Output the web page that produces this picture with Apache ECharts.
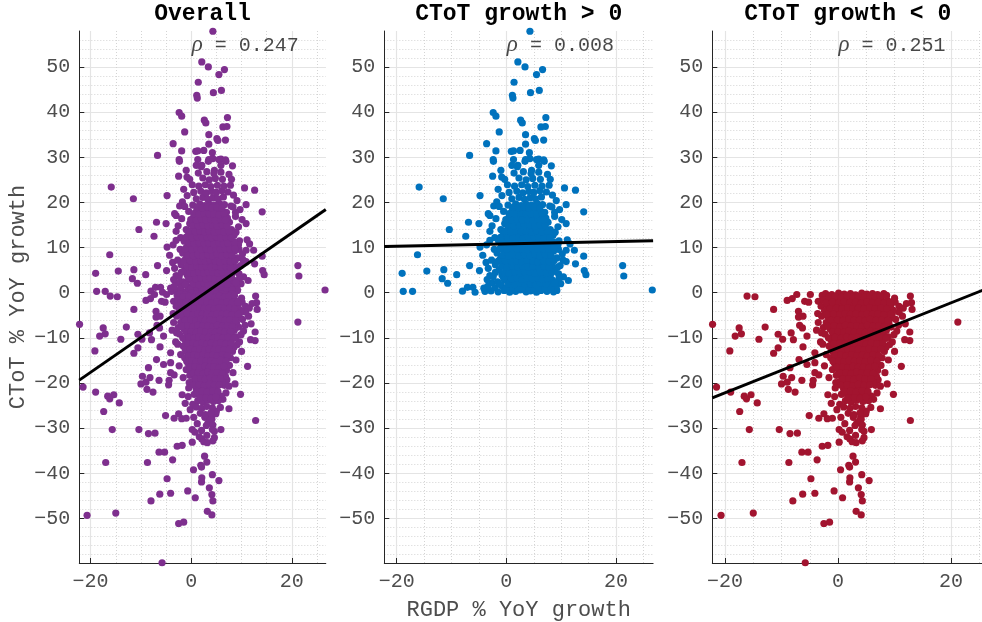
<!DOCTYPE html>
<html>
<head>
<meta charset="utf-8">
<script src="https://cdn.jsdelivr.net/npm/echarts@6/dist/echarts.min.js"></script>
<style>
  html, body { margin: 0; padding: 0; background: #ffffff; }
  #chart { width: 982px; height: 622px; }
</style>
</head>
<body>
<div id="chart"></div>
<script>
// ---- chart data ----
const panelTitles = ['Overall', 'CToT growth > 0', 'CToT growth < 0'];
const rhoValues = ['0.247', '0.008', '0.251'];
const fitSlope = [0.771, 0.0255, 0.498];
const fitIntercept = [-2.2, 10.82, -12.2];
const xRange = [-22.25, 26.75];
const yRange = [-59.85, 57.95];
const xMajorStep = 20, xMinorStep = 5;
const yMajorStep = 10, yMinorStep = 2;
const xAxisTitle = 'RGDP % YoY growth';
const yAxisTitle = 'CToT % YoY growth';

// [RGDP growth, CToT growth] for observations with CToT growth > 0
const ctotPositive = [
  [4.3,57.9],[2.1,51.1],[3.4,50.0],[6.6,49.4],[5.5,48.3],[1.4,46.6],[1.1,43.7],[1.2,43.1],[4.4,44.3],[6.0,44.8],
  [-2.4,39.9],[-1.9,39.1],[2.6,38.2],[2.9,37.6],[7.2,38.8],[6.3,36.7],[7.1,36.8],[-1.3,35.6],[3.5,35.0],[5.1,34.1],
  [5.3,33.7],[6.8,33.8],[-3.6,33.0],[3.5,32.9],[-1.9,31.4],[0.9,31.3],[1.3,31.4],[2.5,31.5],[4.2,31.0],[-6.7,30.4],
  [-2.4,29.5],[1.3,29.5],[3.5,29.5],[5.9,29.6],[6.8,29.4],[-2.35,29.1],[2.1,28.2],[1.0,28.2],[3.4,29.1],[4.3,29.7],
  [5.5,29.5],[6.9,29.1],[5.9,28.2],[4.6,27.1],[-1.0,27.1],[-0.85,25.6],[-2.5,25.8],[-15.9,23.4],[-11.5,20.8],[-4.8,21.5],
  [10.6,23.2],[12.6,22.7],[8.0,25.1],[14.1,17.9],[-10.4,14.0],[-6.9,15.6],[-5.0,15.3],[-7.4,12.5],[-3.0,17.1],[-1.75,20.1],
  [-16.2,8.4],[-19.0,4.3],[-18.8,0.3],[-17.1,0.3],[-14.5,4.8],[-11.4,5.1],[-11.7,3.1],[-10.7,2.1],[-9.05,4.0],[-8.0,0.35],
  [-7.1,1.2],[-6.1,1.2],[-5.7,0.1],[-6.7,6.0],[-4.8,10.1],[21.2,6.0],[21.4,3.7],[26.6,0.6],[14.1,8.1],[14.2,4.9],
  [14.5,4.0],[12.4,9.4],[12.6,6.4],[11.6,10.8],[10.9,15.3],[10.1,16.2],[10.9,19.5],[9.7,18.4],[8.3,19.0],[8.8,17.8],
  [-3.9,0.3],[11.1,11.7],[10.9,9.4],[9.5,9.6],[10.9,6.9],[9.8,6.0],[9.5,4.2],[11.3,2.7],[9.2,0.5],[-4.3,8.3],
  [-3.7,6.7],[-4.9,4.9],[-3.0,3.8],[-3.3,17.5],[-3.0,13.6],[-3.0,11.6],
  [-2.6,2.2],[-3.3,5.4],[-2.7,7.2],[-2.2,9.6],[-3.6,10.6],[-2.1,12.2],[-2.6,14.8],[-1.9,16.4],[-2.3,19.2],[-1.5,22.9],
  [-3.5,2.9],[-4.1,1.0],[9.9,2.0],[10.4,3.5],[9.3,5.6],[10.2,8.6],[9.6,11.5],[8.9,13.4],[9.4,14.6],[9.1,20.4],
  [8.4,21.6],[7.8,23.8],[0.2,23.9],[-0.8,21.5],[-1.3,19.1],[7.5,26.2],[2.0,27.9],[8.2,28.1],
  [-2.8,0.4],[-1.5,0.2],[-0.4,0.5],[0.6,0.1],[1.7,0.3],[2.5,0.6],[3.6,0.2],[4.4,0.4],[5.5,0.1],[6.3,0.5],[7.4,0.3],[8.6,0.2],
  [-3.4,1.4],[-2.1,1.1],[-0.9,1.6],[0.2,1.2],[1.1,1.5],[2.2,1.0],[3.1,1.3],[4.0,1.7],[4.9,1.1],[5.9,1.4],[6.8,1.2],[7.9,1.6],[9.1,1.3],
  [-1.6,2.4],[-0.2,2.8],[0.9,2.5],[1.9,2.9],[2.9,2.3],[3.8,2.7],[4.7,2.5],[5.6,2.9],[6.5,2.4],[7.6,2.6],[8.4,2.8],
  [-2.4,3.6],[-0.8,3.9],[0.4,3.7],[1.4,4.1],[2.4,3.5],[3.3,3.9],[4.2,4.0],[5.2,3.6],[6.1,3.8],[7.0,4.2],[8.0,3.7],[9.6,3.2],
  [-1.3,5.1],[0.0,4.8],[1.0,5.3],[2.0,4.9],[3.0,5.2],[3.9,5.0],[4.8,5.4],[5.8,4.8],[6.7,5.1],[7.7,5.3],[8.8,4.9],
  [-2.0,6.2],[-0.5,6.5],[0.6,6.1],[1.6,6.4],[2.6,6.6],[3.5,6.2],[4.5,6.4],[5.4,6.0],[6.4,6.6],[7.3,6.3],[8.3,6.1],[10.3,7.3],
  [-1.1,7.5],[0.2,7.8],[1.2,7.4],[2.2,7.7],[3.2,7.5],[4.1,7.9],[5.1,7.6],[6.0,7.3],[6.9,7.8],[7.9,7.5],[9.2,7.7],
  [-1.7,8.8],[-0.3,9.1],[0.8,8.7],[1.8,9.0],[2.8,8.8],[3.7,9.2],[4.6,8.9],[5.6,8.6],[6.5,9.1],[7.5,8.9],[8.6,9.2],
  [-0.9,10.1],[0.4,10.4],[1.4,10.0],[2.4,10.3],[3.3,10.1],[4.3,10.5],[5.2,10.2],[6.2,9.9],[7.1,10.4],[8.0,10.2],[9.4,10.6],
  [-1.4,11.4],[-0.1,11.7],[1.0,11.3],[2.0,11.6],[2.9,11.4],[3.9,11.8],[4.8,11.5],[5.8,11.2],[6.7,11.7],[7.7,11.5],
  [-0.6,12.7],[0.6,13.0],[1.6,12.6],[2.5,12.9],[3.5,12.7],[4.4,13.1],[5.4,12.8],[6.3,12.5],[7.3,13.0],[8.5,12.7],
  [-1.0,14.0],[0.3,14.3],[1.2,13.9],[2.2,14.2],[3.1,14.0],[4.0,14.4],[5.0,14.1],[5.9,13.8],[6.9,14.3],[8.0,14.0],
  [-0.3,15.3],[0.9,15.6],[1.9,15.2],[2.8,15.5],[3.7,15.3],[4.7,15.7],[5.6,15.4],[6.6,15.1],[7.6,15.6],
  [0.5,16.7],[1.5,17.0],[2.5,16.6],[3.4,16.9],[4.3,16.7],[5.3,17.1],[6.3,16.8],[7.2,16.5],[8.8,16.9],
  [-0.5,18.0],[1.1,18.3],[2.1,17.9],[3.1,18.2],[4.0,18.0],[5.0,18.4],[6.0,18.1],[7.0,17.8],
  [0.3,19.4],[1.7,19.7],[2.7,19.3],[3.6,19.6],[4.6,19.4],[5.6,19.8],[6.6,19.5],[7.9,19.2],
  [1.0,20.8],[2.3,21.1],[3.3,20.7],[4.3,21.0],[5.3,20.8],[6.4,21.2],
  [0.5,22.2],[1.9,22.5],[3.0,22.1],[4.1,22.4],[5.0,22.2],[6.1,22.6],[7.3,22.3],
  [1.5,23.6],[2.8,23.9],[3.9,23.5],[5.2,23.8],[6.5,23.6],
  [-0.3,25.1],[2.3,25.4],[3.6,25.0],[4.8,25.3],[6.2,25.1],
  [1.4,26.5],[3.1,26.8],[4.5,26.4],[5.9,26.7],
  [-0.1,0.9],[1.2,0.8],[2.1,1.0],[3.0,0.7],[4.1,0.9],[5.0,0.6],[6.0,1.0],[7.0,0.8],[8.1,0.7],
  [-1.2,1.9],[0.4,2.0],[1.5,1.8],[2.5,2.1],[3.4,1.9],[4.4,2.0],[5.3,1.8],[6.2,2.1],[7.2,1.9],[8.9,2.2],
  [-0.5,3.2],[0.9,3.1],[1.9,3.3],[2.9,3.0],[3.8,3.3],[4.7,3.1],[5.7,3.3],[6.6,3.0],[7.5,3.2],
  [-2.0,4.5],[-0.3,4.4],[0.5,4.3],[1.5,4.6],[2.5,4.4],[3.4,4.6],[4.3,4.5],[5.3,4.3],[6.2,4.6],[7.3,4.4],[8.3,4.5],
  [-0.8,5.8],[0.1,5.6],[1.1,5.9],[2.1,5.7],[3.0,5.8],[4.0,5.6],[4.9,5.9],[5.9,5.7],[6.9,5.8],[7.8,5.6],
  [-1.5,7.0],[-0.2,7.1],[0.9,6.9],[1.9,7.1],[2.8,6.9],[3.8,7.2],[4.8,7.0],[5.7,6.8],[6.7,7.1],[7.8,6.9],[8.7,7.1],
  [-0.7,8.3],[0.4,8.2],[1.4,8.4],[2.3,8.2],[3.3,8.4],[4.3,8.2],[5.2,8.5],[6.1,8.2],[7.1,8.4],[8.1,8.3],
  [-1.2,9.7],[0.1,9.6],[1.1,9.8],[2.0,9.6],[3.0,9.7],[3.9,9.5],[4.9,9.8],[5.8,9.6],[6.8,9.7],[7.7,9.6],[8.7,9.8],
  [-0.4,11.0],[0.6,10.9],[1.6,11.1],[2.6,10.9],[3.5,11.0],[4.5,10.8],[5.5,11.1],[6.4,10.9],[7.3,11.0],[8.6,11.2],
  [-1.0,12.3],[0.2,12.2],[1.2,12.4],[2.2,12.1],[3.1,12.3],[4.0,12.2],[5.0,12.4],[5.9,12.1],[6.9,12.3],[7.9,12.2],
  [-0.3,13.6],[0.8,13.5],[1.7,13.7],[2.7,13.5],[3.6,13.6],[4.6,13.4],[5.5,13.7],[6.5,13.5],[7.5,13.6],
  [0.3,14.9],[1.4,14.8],[2.4,15.0],[3.3,14.8],[4.3,14.9],[5.2,14.7],[6.2,15.0],[7.1,14.8],
  [-0.1,16.2],[1.0,16.1],[2.0,16.3],[2.9,16.1],[3.9,16.2],[4.8,16.0],[5.8,16.3],[6.8,16.1],
  [0.5,17.5],[1.6,17.4],[2.6,17.6],[3.6,17.4],[4.5,17.5],[5.5,17.3],[6.5,17.6],
  [1.2,18.9],[2.2,18.8],[3.2,19.0],[4.1,18.8],[5.1,18.9],[6.1,18.7]
];

// [RGDP growth, CToT growth] for observations with CToT growth < 0
const ctotNegative = [
  [-22.2,-7.0],[-16.1,-0.75],[-14.7,-0.9],[-11.4,-3.7],[-9.0,-1.7],[-8.1,-1.3],[-7.3,-0.4],[-4.9,-0.4],[-5.9,-1.9],[-5.2,-2.1],
  [-3.5,-1.9],[-2.8,-0.6],[-7.0,-4.1],[-7.0,-5.4],[-6.2,-5.2],[-17.5,-7.8],[-17.1,-9.1],[-18.2,-9.6],[-12.9,-7.6],[-14.0,-10.3],
  [-19.15,-12.9],[-10.6,-9.2],[-9.8,-10.3],[-11.4,-13.4],[-10.6,-12.2],[-8.3,-8.9],[-7.9,-10.4],[-6.8,-7.2],[-6.3,-7.8],[-5.5,-9.6],
  [-6.2,-12.0],[-3.5,-6.6],[-3.8,-8.3],[-2.9,-8.9],[-3.1,-10.9],[-4.1,-13.3],[-6.9,-14.8],[-8.5,-16.6],[-9.7,-18.5],[-10.0,-20.2],
  [-9.0,-19.8],[-7.6,-22.0],[-8.8,-21.4],[-8.2,-18.8],[-6.4,-19.4],[-4.5,-20.4],[-4.4,-19.4],[-5.5,-15.9],[-4.1,-15.5],[-4.1,-17.7],
  [-3.4,-18.2],[-21.5,-20.9],[-19.0,-22.0],[-16.6,-22.9],[-15.4,-22.6],[-16.2,-23.5],[-14.3,-24.4],[-17.4,-26.3],[-5.1,-27.2],[-3.4,-27.8],
  [-1.9,-27.9],[-2.5,-26.8],[-1.0,-27.8],[4.0,-27.5],[4.9,-26.8],[9.8,-22.5],[11.2,-16.3],[10.0,-13.0],[9.6,-10.9],[8.9,-9.8],
  [11.8,-10.4],[12.7,-10.6],[12.7,-8.7],[11.9,-6.9],[11.4,-5.2],[13.1,-3.7],[13.0,-2.2],[12.8,-0.75],[21.2,-6.5],[7.1,-19.3],
  [6.6,-20.5],[8.3,-17.7],[8.7,-20.2],[7.5,-20.7],[7.5,-25.7],[12.8,-28.3],
  [1.2,-29.0],[2.7,-27.6],[3.3,-28.9],[3.8,-28.4],[4.1,-28.0],[4.3,-29.3],[3.0,-29.4],
  [-15.7,-30.3],[-10.4,-30.3],[-8.5,-31.2],[-7.2,-31.1],[0.2,-30.3],[0.75,-30.9],[2.05,-30.5],[4.2,-30.3],[4.6,-30.7],[5.9,-30.3],
  [1.6,-31.9],[2.1,-32.4],[3.1,-31.6],[2.5,-33.0],[3.2,-33.2],[4.6,-32.1],[4.3,-32.8],[0.2,-33.1],[-2.8,-34.0],[-1.8,-33.8],
  [-6.4,-35.3],[-5.3,-35.3],[-3.7,-37.0],[-17.0,-37.6],[-8.7,-37.6],[2.65,-36.2],[3.1,-37.5],[1.9,-38.2],[2.05,-38.6],[0.45,-39.2],
  [-4.8,-41.2],[2.1,-41.0],[2.05,-41.9],[4.2,-40.3],[5.5,-41.6],[3.6,-43.2],[-0.7,-43.9],[-6.25,-44.6],[-4.1,-44.4],[4.1,-44.7],
  [0.8,-45.4],[-8.0,-46.1],[4.3,-46.1],[-20.7,-49.3],[-15.0,-48.8],[3.2,-48.4],[4.1,-49.2],[-2.5,-51.1],[-1.5,-50.8],[-5.8,-59.8],
  [10.1,-2.1],[10.8,-3.0],[11.55,-3.4],[12.1,-2.4],[10.8,-4.3],[9.6,-4.65],[8.7,-6.5],[8.55,-8.35],
  [-3.0,-3.0],[-2.9,-5.2],[-3.6,-4.6],[-2.6,-7.7],[-2.7,-11.4],[-2.1,-13.7],[-2.4,-16.2],[-1.6,-18.8],[-1.8,-22.6],[-1.2,-24.5],
  [-0.2,-25.9],[-0.6,-23.0],[9.8,-3.9],[10.2,-5.9],[9.4,-7.6],[10.4,-8.5],[9.1,-11.5],[8.2,-13.0],[8.9,-14.9],[7.6,-16.1],
  [6.8,-18.5],[6.9,-22.2],[6.3,-23.6],[5.8,-25.4],[5.0,-26.2],[0.5,-27.6],[0.3,-24.7],[-0.4,-19.9],
  [-2.2,-0.2],[-1.1,-0.4],[0.1,-0.1],[1.1,-0.3],[2.2,-0.2],[3.1,-0.5],[4.2,-0.1],[5.1,-0.3],[6.1,-0.2],[7.0,-0.4],[8.1,-0.2],
  [-2.6,-1.6],[-1.5,-1.3],[-0.5,-1.7],[0.6,-1.4],[1.6,-1.6],[2.6,-1.2],[3.6,-1.5],[4.6,-1.8],[5.6,-1.3],[6.5,-1.6],[7.6,-1.4],[8.7,-1.7],[10.0,-1.2],
  [-1.9,-2.9],[-0.8,-2.6],[0.2,-3.0],[1.2,-2.7],[2.2,-2.9],[3.1,-2.5],[4.1,-2.8],[5.1,-3.1],[6.0,-2.6],[7.1,-2.9],[8.2,-2.7],[9.3,-3.0],
  [-2.4,-4.0],[-1.3,-4.3],[-0.2,-3.9],[0.8,-4.2],[1.8,-4.0],[2.7,-4.4],[3.7,-4.1],[4.7,-3.9],[5.6,-4.3],[6.6,-4.0],[7.7,-4.2],[8.8,-4.5],
  [-1.7,-5.5],[-0.6,-5.2],[0.4,-5.6],[1.4,-5.3],[2.3,-5.5],[3.3,-5.1],[4.3,-5.4],[5.2,-5.7],[6.2,-5.2],[7.2,-5.5],[8.3,-5.3],[9.5,-5.6],
  [-2.1,-6.6],[-1.0,-6.9],[0.0,-6.5],[1.0,-6.8],[2.0,-6.6],[2.9,-7.0],[3.9,-6.7],[4.9,-6.4],[5.8,-6.8],[6.8,-6.6],[7.9,-6.9],[9.0,-6.7],[10.7,-7.2],
  [-1.4,-8.1],[-0.4,-7.8],[0.6,-8.2],[1.6,-7.9],[2.5,-8.1],[3.5,-7.7],[4.5,-8.0],[5.4,-8.3],[6.4,-7.8],[7.4,-8.1],[8.6,-7.9],
  [-2.3,-9.2],[-0.8,-9.5],[0.2,-9.1],[1.2,-9.4],[2.1,-9.2],[3.1,-9.6],[4.1,-9.3],[5.0,-9.0],[6.0,-9.4],[7.0,-9.2],[8.0,-9.5],[9.9,-9.3],
  [-1.2,-10.5],[-0.1,-10.8],[0.8,-10.4],[1.8,-10.7],[2.7,-10.5],[3.7,-10.9],[4.6,-10.6],[5.6,-10.3],[6.6,-10.7],[7.6,-10.5],
  [-1.6,-11.8],[-0.5,-12.1],[0.5,-11.7],[1.4,-12.0],[2.4,-11.8],[3.3,-12.2],[4.3,-11.9],[5.2,-11.6],[6.2,-12.0],[7.3,-11.8],[8.5,-12.1],
  [-0.9,-13.1],[0.1,-13.4],[1.1,-13.0],[2.0,-13.3],[3.0,-13.1],[3.9,-13.5],[4.9,-13.2],[5.8,-12.9],[6.8,-13.3],
  [-1.3,-14.4],[-0.2,-14.7],[0.7,-14.3],[1.7,-14.6],[2.6,-14.4],[3.6,-14.8],[4.5,-14.5],[5.5,-14.2],[6.5,-14.6],[7.8,-14.4],
  [-0.6,-15.7],[0.4,-16.0],[1.3,-15.6],[2.3,-15.9],[3.2,-15.7],[4.2,-16.1],[5.1,-15.8],[6.1,-15.5],
  [-1.0,-17.0],[0.1,-17.3],[1.0,-16.9],[2.0,-17.2],[2.9,-17.0],[3.9,-17.4],[4.8,-17.1],[5.8,-16.8],[7.0,-17.2],
  [-0.3,-18.3],[0.7,-18.6],[1.6,-18.2],[2.6,-18.5],[3.5,-18.3],[4.5,-18.7],[5.5,-18.4],
  [0.3,-19.7],[1.3,-20.0],[2.3,-19.6],[3.2,-19.9],[4.2,-19.7],[5.3,-20.1],[6.2,-19.8],
  [-0.5,-21.1],[1.0,-21.4],[2.0,-21.0],[2.9,-21.3],[3.9,-21.1],[5.0,-21.5],
  [0.6,-22.5],[1.7,-22.8],[2.6,-22.4],[3.7,-22.7],[4.8,-22.5],[5.9,-22.9],
  [1.3,-23.9],[2.3,-24.2],[3.3,-23.8],[4.4,-24.1],[5.4,-23.9],
  [1.0,-25.3],[2.1,-25.6],[3.1,-25.2],[4.2,-25.5],
  [1.8,-26.7],[2.8,-27.0],[3.9,-26.6],
  [-1.6,-0.9],[-0.5,-0.8],[0.6,-1.0],[1.6,-0.7],[2.7,-0.9],[3.6,-0.8],[4.7,-1.0],[5.6,-0.7],[6.6,-0.9],[7.5,-0.8],[8.6,-0.6],
  [-2.1,-2.2],[-1.0,-2.1],[0.1,-2.3],[1.1,-2.0],[2.1,-2.2],[3.1,-2.1],[4.1,-2.3],[5.1,-2.0],[6.1,-2.2],[7.1,-2.1],[8.1,-2.3],[9.2,-2.1],
  [-1.4,-3.5],[-0.3,-3.4],[0.7,-3.6],[1.7,-3.3],[2.6,-3.5],[3.6,-3.4],[4.6,-3.6],[5.6,-3.3],[6.6,-3.5],[7.6,-3.4],[8.6,-3.6],
  [-2.0,-4.8],[-0.8,-4.7],[0.3,-4.9],[1.3,-4.6],[2.2,-4.8],[3.2,-4.7],[4.2,-4.9],[5.1,-4.6],[6.1,-4.8],[7.1,-4.7],[8.1,-4.9],[9.3,-4.8],
  [-1.2,-6.1],[-0.1,-6.0],[0.9,-6.2],[1.9,-5.9],[2.8,-6.1],[3.8,-6.0],[4.8,-6.2],[5.7,-5.9],[6.7,-6.1],[7.7,-6.0],[8.8,-6.2],
  [-1.8,-7.4],[-0.7,-7.3],[0.4,-7.5],[1.3,-7.2],[2.3,-7.4],[3.3,-7.3],[4.3,-7.5],[5.2,-7.2],[6.2,-7.4],[7.2,-7.3],[8.2,-7.5],
  [-1.0,-8.7],[0.0,-8.6],[1.0,-8.8],[1.9,-8.5],[2.9,-8.7],[3.9,-8.6],[4.8,-8.8],[5.8,-8.5],[6.7,-8.7],[7.8,-8.6],
  [-1.7,-10.0],[-0.5,-9.9],[0.5,-10.1],[1.5,-9.8],[2.4,-10.0],[3.4,-9.9],[4.4,-10.1],[5.3,-9.8],[6.3,-10.0],[7.3,-9.9],[8.5,-10.1],
  [-0.7,-11.3],[0.3,-11.2],[1.2,-11.4],[2.2,-11.1],[3.1,-11.3],[4.0,-11.2],[5.0,-11.4],[5.9,-11.1],[6.9,-11.3],[7.9,-11.2],
  [-1.2,-12.6],[-0.2,-12.5],[0.8,-12.7],[1.7,-12.4],[2.7,-12.6],[3.6,-12.5],[4.6,-12.7],[5.5,-12.4],[6.5,-12.6],[7.6,-12.5],
  [-0.5,-13.9],[0.5,-13.8],[1.4,-14.0],[2.4,-13.7],[3.3,-13.9],[4.3,-13.8],[5.2,-14.0],[6.2,-13.7],[7.2,-13.9],
  [-0.9,-15.2],[0.1,-15.1],[1.0,-15.3],[2.0,-15.0],[2.9,-15.2],[3.9,-15.1],[4.8,-15.3],[5.8,-15.0],[6.9,-15.2],
  [-0.2,-16.5],[0.8,-16.4],[1.7,-16.6],[2.7,-16.3],[3.6,-16.5],[4.5,-16.4],[5.5,-16.6],[6.5,-16.3],
  [0.4,-17.8],[1.4,-17.7],[2.3,-17.9],[3.3,-17.6],[4.2,-17.8],[5.2,-17.7],[6.2,-17.9],
  [0.9,-19.1],[1.9,-19.0],[2.8,-19.2],[3.8,-18.9],[4.8,-19.1],[5.8,-19.0],
  [0.5,-20.5],[1.6,-20.4],[2.6,-20.6],[3.6,-20.3],[4.6,-20.5],[5.6,-20.4],
  [1.2,-21.9],[2.2,-21.8],[3.2,-22.0],[4.3,-21.7],[5.3,-21.9],
  [1.8,-23.3],[2.9,-23.2],[3.9,-23.4],[4.9,-23.1]
];

// the overall panel pools both groups
const ctotAll = ctotPositive.concat(ctotNegative);
const panelData = [ctotAll, ctotPositive, ctotNegative];

// ---- styling / layout ----
const markerColors = ['#7E2F8E', '#0072BD', '#A2142F'];
const panels = [
  { left: 79.3, width: 246.5 },
  { left: 384.3, width: 268.8 },
  { left: 712.3, width: 276.9 }
];
const plotTop = 31, plotHeight = 532;
const MONO = '"Liberation Mono", "DejaVu Sans Mono", monospace';
const tickColor = '#4d4d4d';
const axisColor = '#262626';

function fmtTick(v, step) {
  if (Math.abs(v / step - Math.round(v / step)) > 1e-6) return '';
  return String(v).replace('-', '\u2212');
}

const grid = [], xAxis = [], yAxis = [], series = [];

panels.forEach((p, g) => {
  grid.push({
    left: p.left, top: plotTop, width: p.width, height: plotHeight,
    containLabel: false, outerBoundsMode: 'none'
  });

  // dotted minor grid (x)
  xAxis.push({
    gridIndex: g, type: 'value', position: 'bottom', min: xRange[0], max: xRange[1],
    minInterval: xMinorStep, maxInterval: xMinorStep,
    axisLine: { show: false, onZero: false }, axisTick: { show: false }, axisLabel: { show: false },
    splitLine: { show: true, showMinLine: false, showMaxLine: false,
      lineStyle: { color: '#d4d4d4', width: 1, type: [1, 2] } }
  });
  // major x axis with labels
  xAxis.push({
    gridIndex: g, type: 'value', position: 'bottom', min: xRange[0], max: xRange[1],
    minInterval: xMajorStep, maxInterval: xMajorStep,
    name: g === 1 ? xAxisTitle : '', nameLocation: 'middle', nameGap: 36,
    nameTextStyle: { fontFamily: MONO, fontSize: 22, color: tickColor },
    axisLine: { show: true, onZero: false, lineStyle: { color: axisColor, width: 1 } },
    axisTick: { show: true, inside: true, length: 5, lineStyle: { color: axisColor } },
    axisLabel: { show: true, showMinLabel: false, showMaxLabel: false, margin: 9,
      fontFamily: MONO, fontSize: 20, color: tickColor,
      formatter: v => fmtTick(v, xMajorStep) },
    splitLine: { show: true, showMinLine: false, showMaxLine: false,
      lineStyle: { color: '#e4e4e4', width: 1.2 } }
  });

  // dotted minor grid (y)
  yAxis.push({
    gridIndex: g, type: 'value', position: 'left', min: yRange[0], max: yRange[1],
    minInterval: yMinorStep, maxInterval: yMinorStep,
    axisLine: { show: false, onZero: false }, axisTick: { show: false }, axisLabel: { show: false },
    splitLine: { show: true, showMinLine: false, showMaxLine: false,
      lineStyle: { color: '#d4d4d4', width: 1, type: [1, 2] } }
  });
  // major y axis with labels
  yAxis.push({
    gridIndex: g, type: 'value', position: 'left', min: yRange[0], max: yRange[1],
    minInterval: yMajorStep, maxInterval: yMajorStep,
    name: g === 0 ? yAxisTitle : '', nameLocation: 'middle', nameGap: 50,
    nameTextStyle: { fontFamily: MONO, fontSize: 22, color: tickColor },
    axisLine: { show: true, onZero: false, lineStyle: { color: axisColor, width: 1 } },
    axisTick: { show: true, inside: true, length: 5, lineStyle: { color: axisColor } },
    axisLabel: { show: true, showMinLabel: false, showMaxLabel: false, margin: 9,
      fontFamily: MONO, fontSize: 20, color: tickColor,
      formatter: v => fmtTick(v, yMajorStep) },
    splitLine: { show: true, showMinLine: false, showMaxLine: false,
      lineStyle: { color: '#e4e4e4', width: 1.2 } }
  });

  const xi = 2 * g + 1, yi = 2 * g + 1;

  series.push({
    type: 'scatter', xAxisIndex: xi, yAxisIndex: yi,
    data: panelData[g], symbol: 'circle', symbolSize: 7.2,
    itemStyle: { color: markerColors[g], opacity: 1 },
    silent: true, animation: false, z: 2
  });

  // least-squares fit line across the axis range
  const fitLine = xRange.map(x => [x, fitIntercept[g] + fitSlope[g] * x]);
  series.push({
    type: 'line', xAxisIndex: xi, yAxisIndex: yi, data: fitLine,
    symbol: 'none', lineStyle: { color: '#000000', width: 3 },
    silent: true, animation: false, z: 3
  });

  // correlation annotation anchored at x = 0
  series.push({
    type: 'scatter', xAxisIndex: xi, yAxisIndex: yi,
    data: [[0, 54.8]], symbolSize: 1, itemStyle: { color: 'rgba(0,0,0,0)' },
    silent: true, animation: false, z: 4,
    label: {
      show: true, position: 'right', distance: 0,
      formatter: '{r|\u03C1}{t| = ' + rhoValues[g] + '}',
      rich: {
        r: { fontFamily: '"Liberation Serif", "DejaVu Serif", serif', fontStyle: 'italic', fontSize: 23, color: '#1a1a1a' },
        t: { fontFamily: MONO, fontSize: 20, color: '#1a1a1a' }
      }
    }
  });
});

const graphic = panels.map((p, i) => ({
  type: 'text', x: p.left + p.width / 2 - (i === 2 ? 3 : 0), y: 14,
  style: {
    text: panelTitles[i], align: 'center', verticalAlign: 'middle',
    fontFamily: MONO, fontWeight: 'bold', fontSize: 23, fill: '#000000'
  }
}));

const chart = echarts.init(document.getElementById('chart'), null, { renderer: 'canvas' });
chart.setOption({
  animation: false,
  backgroundColor: '#ffffff',
  grid, xAxis, yAxis, series, graphic
});
</script>
</body>
</html>
